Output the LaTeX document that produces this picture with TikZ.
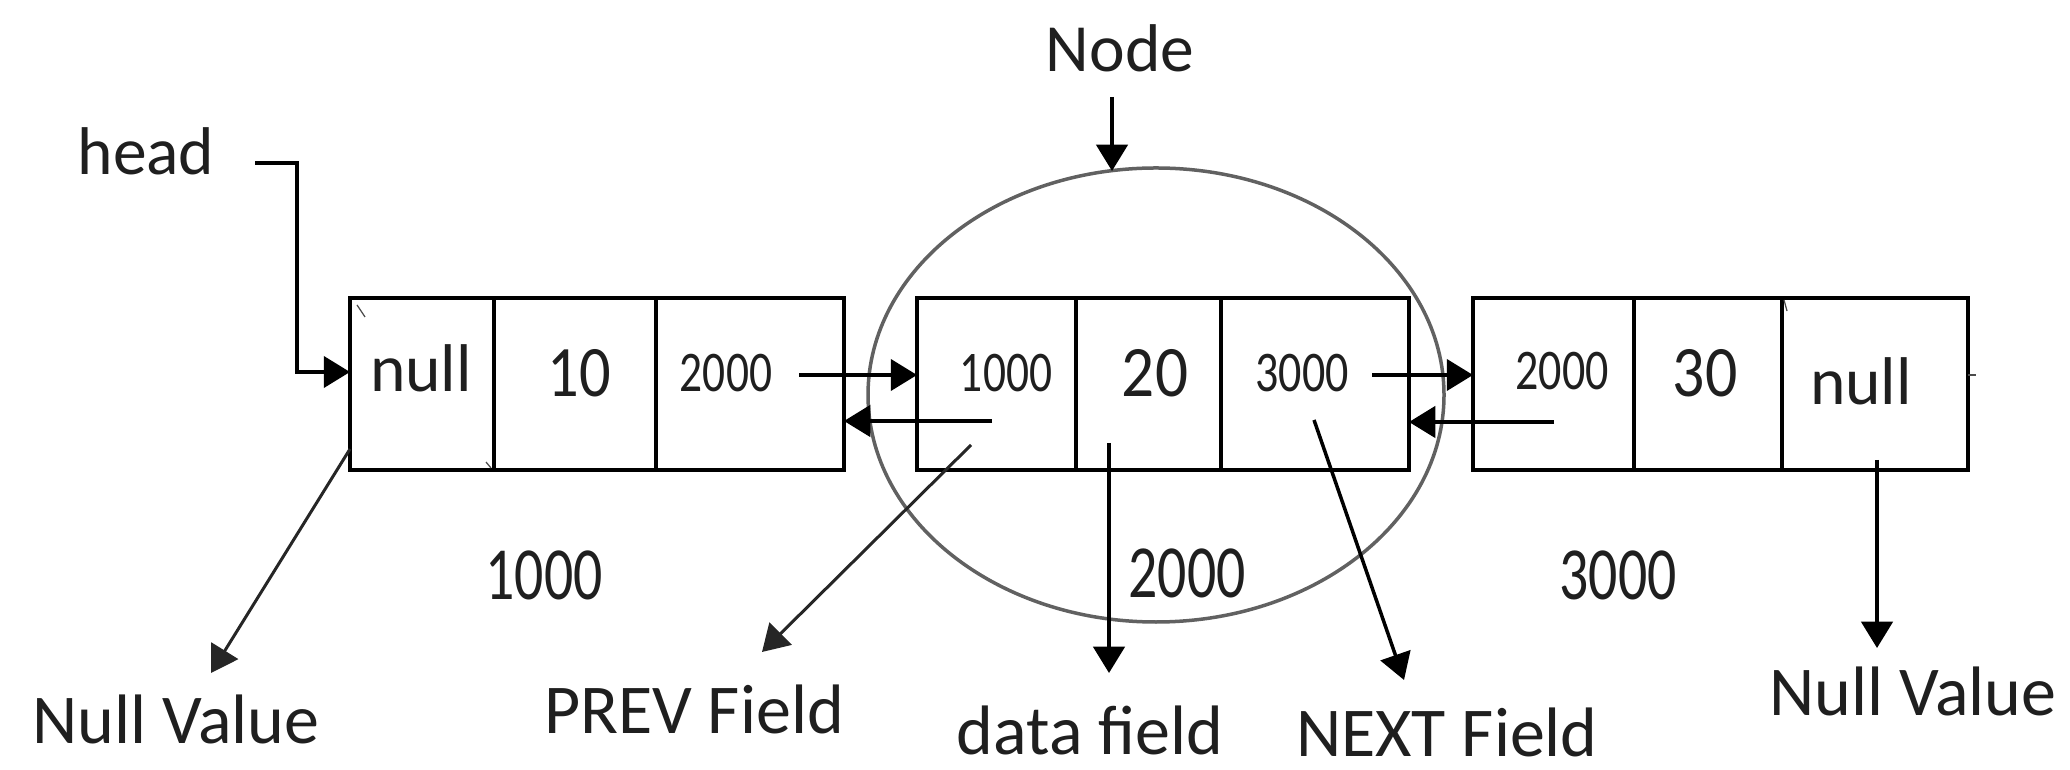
\documentclass[tikz,border=0pt]{standalone}
\usepackage{graphicx}
\usepackage{fontspec}
\setmainfont{Carlito}
\usetikzlibrary{arrows.meta,shapes.geometric}

% one drawing unit = one pixel of a 2070 x 770 canvas, y pointing down
\tikzset{
  cellbox/.style={draw, line width=1.6pt, inner sep=0pt, outer sep=0pt, minimum height=68.8pt},
  lbl/.style={anchor=base, inner sep=0pt, outer sep=0pt, text=black!88, font=\fontsize{28}{30}\selectfont},
  celltxt/.style={lbl, font=\fontsize{27}{29}\selectfont},
  ptr/.style={line width=1.4pt, -{Triangle[length=10.5pt,width=12.5pt]}},
  ptrthin/.style={line width=1.2pt, draw=black!85, -{Triangle[length=10.5pt,width=12.5pt]}},
  grpring/.style={draw=black!62, line width=1.4pt, ellipse, inner sep=0pt},
  speck/.style={line width=0.5pt, draw=black!70},
}
% narrow digits
\newcommand\nd[2]{\scalebox{#1}[1]{#2}}
% one cell of a list record, spanning x = #2 .. #3
\newcommand\mkcell[3]{\node[cellbox, minimum width={(#3-#2)*0.4pt}] (#1) at ({(#2+#3)/2},384) {};}

\begin{document}
\begin{tikzpicture}[x=0.4pt, y=-0.4pt]
\useasboundingbox (0,0) rectangle (2070,770);

% records
\mkcell{c11}{350}{494}
\mkcell{c12}{494}{656}
\mkcell{c13}{656}{844}
\mkcell{c21}{917}{1076}
\mkcell{c22}{1076}{1221}
\mkcell{c23}{1221}{1409}
\mkcell{c31}{1473}{1634}
\mkcell{c32}{1634}{1782}
\mkcell{c33}{1782}{1968}

% the highlighted record
\node[grpring, minimum width=230.4pt, minimum height=181.6pt] (grp) at (1156,395) {};

% cell contents
\node[celltxt] (t11) at (421,392) {null};
\node[lbl, font=\fontsize{29}{31}\selectfont] (t12) at (579,397) {\nd{0.86}{10}};
\node[lbl, font=\fontsize{23}{25}\selectfont] (t13) at (726,392) {\nd{0.79}{2000}};
\node[lbl, font=\fontsize{23}{25}\selectfont] (t21) at (1006,392) {\nd{0.79}{1000}};
\node[lbl, font=\fontsize{29}{31}\selectfont] (t22) at (1155,397) {\nd{0.9}{20}};
\node[lbl, font=\fontsize{23}{25}\selectfont] (t23) at (1302,392) {\nd{0.8}{3000}};
\node[lbl, font=\fontsize{23}{25}\selectfont] (t31) at (1562,390) {\nd{0.8}{2000}};
\node[lbl, font=\fontsize{29}{31}\selectfont] (t32) at (1705,397) {\nd{0.88}{30}};
\node[celltxt] (t33) at (1861,405) {null};

% addresses
\node[lbl, font=\fontsize{30}{32}\selectfont] (a1) at (544,600) {\nd{0.77}{1000}};
\node[lbl, font=\fontsize{30}{32}\selectfont] (a2) at (1187,598) {\nd{0.77}{2000}};
\node[lbl, font=\fontsize{30}{32}\selectfont] (a3) at (1618,600) {\nd{0.77}{3000}};

% captions
\node[lbl, font=\fontsize{27}{29}\selectfont] (head) at (146,175) {head};
\node[lbl, font=\fontsize{27}{29}\selectfont] (nodecap) at (1120,72) {Node};
\node[lbl] (nullL) at (176,743) {Null Value};
\node[lbl] (prev) at (694,733) {PREV Field};
\node[lbl] (data) at (1090,754) {data field};
\node[lbl] (next) at (1447,756) {NEXT Field};
\node[lbl] (nullR) at (1913,715) {Null Value};

% pointer end points
\coordinate (hs) at (255,163);
\coordinate (hk) at (297,163);
\coordinate (f1) at (799,375);
\coordinate (f2) at (1372,375);
\coordinate (b2) at (992,421);
\coordinate (b3) at (1554,422);
\coordinate (ns) at (1112,97);
\coordinate (ne) at (1112,171);
\coordinate (nlS) at (350,449);
\coordinate (nlT) at (211,673);
\coordinate (pvS) at (971,445);
\coordinate (pvT) at (762,652);
\coordinate (dtS) at (1109,443);
\coordinate (dtT) at (1109,673);
\coordinate (nxS) at (1314,420);
\coordinate (nxT) at (1404,680);
\coordinate (nrS) at (1877,460);
\coordinate (nrT) at (1877,648);

% head pointer
\draw[ptr] (hs) -- (hk) |- (c11.west |- 0,372);
% next links
\draw[ptr] (f1) -- (f1 -| c21.west);
\draw[ptr] (f2) -- (f2 -| c31.west);
% prev links
\draw[ptr] (b2) -- (b2 -| c13.east);
\draw[ptr] (b3) -- (b3 -| c23.east);
% caption pointers
\draw[ptr] (ns) -- (ne);
\draw[ptrthin] (nlS) -- (nlT);
\draw[ptrthin] (pvS) -- (pvT);
\draw[ptr] (dtS) -- (dtT);
\draw[ptr] (nxS) -- (nxT);
\draw[ptr] (nrS) -- (nrT);

% small marks left on the records
\draw[speck] (357,305) -- (365,317);
\draw[speck] (486,462) -- (491,468);
\draw[speck] (1784,300) -- (1787,311);
\draw[speck, line width=1pt] (1968,375) -- (1976,375);
\end{tikzpicture}
\end{document}
